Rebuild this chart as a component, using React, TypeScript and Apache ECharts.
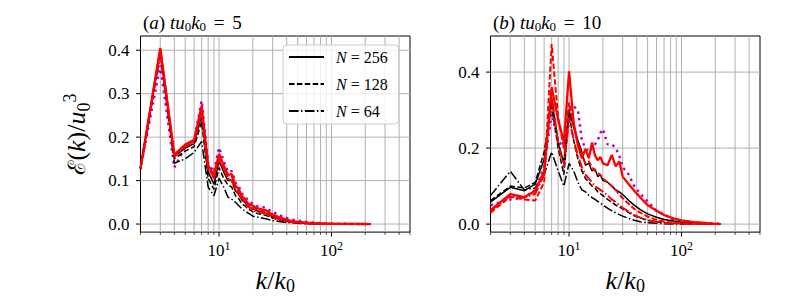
import React, { useEffect, useRef } from 'react';
import * as echarts from 'echarts';

const F = 'Liberation Serif';

// wavenumber k/k0 sample points
const kValues = [2, 3, 4, 5, 6, 7, 8, 9, 10, 11, 12, 13, 14, 15, 16, 17, 18, 19, 20, 22, 24, 26, 28, 30, 34, 38, 43, 50, 60, 70, 85, 100, 130, 160, 190, 222];

// Panel (a) t u0 k0 = 5
const aN256 = [0.128, 0.400, 0.155, 0.175, 0.185, 0.250, 0.120, 0.092, 0.145, 0.120, 0.100, 0.100, 0.076, 0.068, 0.055, 0.050, 0.042, 0.038, 0.035, 0.030, 0.028, 0.025, 0.021, 0.018, 0.013, 0.009, 0.006, 0.004, 0.002, 0.0015, 0.001, 0.0006, 0.0003, 0.0002, 0.0001, 0.0];
const aN128 = [0.128, 0.395, 0.150, 0.168, 0.178, 0.235, 0.105, 0.080, 0.130, 0.105, 0.090, 0.085, 0.065, 0.058, 0.046, 0.042, 0.035, 0.032, 0.028, 0.024, 0.022, 0.020, 0.017, 0.014, 0.010, 0.007, 0.005, 0.003, 0.0015, 0.001, 0.0006, 0.0004, 0.0002, 0.0001, 0.0, 0.0];
const aN64 = [0.125, 0.390, 0.140, 0.150, 0.165, 0.190, 0.085, 0.065, 0.105, 0.085, 0.062, 0.057, 0.050, 0.042, 0.035, 0.030, 0.026, 0.022, 0.018, 0.016, 0.014, 0.012, 0.010, 0.008, 0.006, 0.004, 0.003, 0.002, 0.001, 0.0007, 0.0004, 0.0002, 0.0001, 0.0, 0.0, 0.0];
const aRedSolid = [0.128, 0.405, 0.160, 0.183, 0.194, 0.272, 0.135, 0.113, 0.162, 0.135, 0.113, 0.115, 0.088, 0.080, 0.064, 0.058, 0.048, 0.045, 0.042, 0.036, 0.034, 0.032, 0.026, 0.022, 0.016, 0.012, 0.008, 0.005, 0.003, 0.002, 0.001, 0.0007, 0.0003, 0.0002, 0.0001, 0.0];
const aRedDashed = [0.128, 0.402, 0.158, 0.180, 0.190, 0.265, 0.130, 0.108, 0.157, 0.130, 0.110, 0.110, 0.084, 0.076, 0.060, 0.055, 0.045, 0.042, 0.038, 0.032, 0.030, 0.028, 0.023, 0.019, 0.014, 0.010, 0.007, 0.004, 0.002, 0.0015, 0.0008, 0.0005, 0.0002, 0.0001, 0.0, 0.0];
const aRedDashDot = [0.128, 0.400, 0.155, 0.178, 0.188, 0.260, 0.126, 0.105, 0.153, 0.126, 0.104, 0.100, 0.079, 0.070, 0.055, 0.050, 0.040, 0.037, 0.033, 0.027, 0.026, 0.024, 0.019, 0.016, 0.011, 0.008, 0.005, 0.003, 0.0015, 0.001, 0.0005, 0.0003, 0.0001, 0.0, 0.0, 0.0];
const aMagenta = [0.128, 0.365, 0.130, 0.178, 0.192, 0.284, 0.140, 0.120, 0.176, 0.145, 0.120, 0.122, 0.095, 0.086, 0.070, 0.064, 0.055, 0.050, 0.047, 0.041, 0.040, 0.037, 0.032, 0.028, 0.021, 0.016, 0.011, 0.008, 0.005, 0.003, 0.0015, 0.001, 0.0005, 0.0003, 0.0001, 0.0];

// Panel (b) t u0 k0 = 10
const bN256 = [0.058, 0.097, 0.088, 0.105, 0.170, 0.330, 0.215, 0.160, 0.300, 0.255, 0.220, 0.190, 0.155, 0.160, 0.140, 0.145, 0.125, 0.130, 0.115, 0.110, 0.100, 0.090, 0.085, 0.078, 0.062, 0.050, 0.038, 0.027, 0.018, 0.012, 0.008, 0.005, 0.002, 0.001, 0.0005, 0.0];
const bN128 = [0.062, 0.100, 0.095, 0.110, 0.190, 0.310, 0.200, 0.130, 0.290, 0.220, 0.170, 0.140, 0.120, 0.110, 0.100, 0.095, 0.085, 0.080, 0.075, 0.065, 0.058, 0.050, 0.045, 0.040, 0.030, 0.022, 0.016, 0.010, 0.006, 0.004, 0.002, 0.001, 0.0005, 0.0002, 0.0001, 0.0];
const bN64 = [0.075, 0.139, 0.090, 0.095, 0.130, 0.190, 0.140, 0.100, 0.160, 0.140, 0.110, 0.090, 0.085, 0.075, 0.070, 0.065, 0.060, 0.055, 0.050, 0.042, 0.035, 0.030, 0.025, 0.021, 0.015, 0.010, 0.006, 0.004, 0.002, 0.001, 0.0005, 0.0002, 0.0, 0.0, 0.0, 0.0];
const bRedSolid = [0.037, 0.079, 0.071, 0.088, 0.139, 0.360, 0.275, 0.215, 0.402, 0.266, 0.207, 0.173, 0.198, 0.173, 0.215, 0.181, 0.168, 0.177, 0.160, 0.155, 0.182, 0.152, 0.165, 0.125, 0.105, 0.088, 0.070, 0.050, 0.035, 0.024, 0.015, 0.010, 0.005, 0.003, 0.0015, 0.0];
const bRedDashed = [0.030, 0.072, 0.065, 0.062, 0.110, 0.474, 0.280, 0.200, 0.320, 0.260, 0.210, 0.180, 0.160, 0.165, 0.150, 0.140, 0.135, 0.130, 0.120, 0.110, 0.100, 0.090, 0.078, 0.068, 0.053, 0.040, 0.030, 0.020, 0.011, 0.007, 0.003, 0.002, 0.0008, 0.0003, 0.0001, 0.0];
const bRedDashDot = [0.035, 0.075, 0.070, 0.080, 0.130, 0.340, 0.210, 0.150, 0.280, 0.220, 0.180, 0.150, 0.130, 0.120, 0.110, 0.100, 0.095, 0.090, 0.085, 0.075, 0.065, 0.058, 0.050, 0.043, 0.033, 0.024, 0.017, 0.011, 0.006, 0.003, 0.0015, 0.0008, 0.0003, 0.0001, 0.0, 0.0];
const bMagenta = [0.050, 0.065, 0.070, 0.090, 0.150, 0.290, 0.220, 0.200, 0.300, 0.310, 0.300, 0.220, 0.200, 0.190, 0.200, 0.210, 0.220, 0.240, 0.250, 0.210, 0.210, 0.200, 0.180, 0.150, 0.130, 0.100, 0.080, 0.060, 0.035, 0.025, 0.012, 0.008, 0.004, 0.003, 0.002, 0.001];

// ticks
const xTickValues = [2, 3, 4, 5, 6, 7, 8, 9, 10, 20, 30, 40, 50, 60, 70, 80, 90, 100, 200, 300, 400, 500];
const xMajorTicks = [10, 100];
const yTicksA = [0, 0.1, 0.2, 0.3, 0.4];
const yTicksB = [0, 0.2, 0.4];
const legendNames = ['N = 256', 'N = 128', 'N = 64'];

const BLACK = '#000000';
const RED = '#ff0000';
const MAG = '#bf00bf';
const DASH = [5.5, 2.4];
const DASHDOT = [9.6, 2.4, 1.5, 2.4];
const DOT = [2.5, 4];

const GRID_L = [140.5, 490.5];
const GRID_W = 269.5;
const GRID_T = 36;
const GRID_H = 203;

function pairs(vals: number[]) {
  return kValues.map((k, i) => [k, vals[i]]);
}

function lineSeries(name: string, vals: number[], idx: number, color: string, type: any, width: number, z: number) {
  return {
    type: 'line',
    name,
    xAxisIndex: idx,
    yAxisIndex: idx,
    data: pairs(vals),
    showSymbol: false,
    symbol: 'none',
    z,
    lineStyle: { color, width, type },
    itemStyle: { color },
    emphasis: { disabled: true },
  };
}

function gridSeries(idx: number, yTicks: number[]) {
  const vData = xTickValues.map((v) => [v, 0, xMajorTicks.indexOf(v) >= 0 ? 1 : 0]);
  const hData = yTicks.map((v) => [10, v]);
  return [
    {
      type: 'custom',
      xAxisIndex: idx,
      yAxisIndex: idx,
      silent: true,
      z: 1,
      clip: false,
      data: vData,
      encode: { x: 0, y: 1 },
      renderItem: (params: any, api: any) => {
        const cs = params.coordSys;
        const x = api.coord([api.value(0), 0])[0];
        const major = api.value(2) === 1;
        const bottom = cs.y + cs.height;
        const children: any[] = [];
        if (x > cs.x + 0.5 && x < cs.x + cs.width - 0.5) {
          children.push({ type: 'line', shape: { x1: x, y1: cs.y, x2: x, y2: bottom }, style: { stroke: '#b0b0b0', lineWidth: 1 } });
        }
        children.push({ type: 'line', shape: { x1: x, y1: bottom, x2: x, y2: bottom + (major ? 4.5 : 2.8) }, style: { stroke: '#000', lineWidth: major ? 1 : 0.7 } });
        return { type: 'group', children };
      },
    },
    {
      type: 'custom',
      xAxisIndex: idx,
      yAxisIndex: idx,
      silent: true,
      z: 1,
      clip: false,
      data: hData,
      encode: { x: 0, y: 1 },
      renderItem: (params: any, api: any) => {
        const cs = params.coordSys;
        const y = api.coord([10, api.value(1)])[1];
        return {
          type: 'group',
          children: [
            { type: 'line', shape: { x1: cs.x, y1: y, x2: cs.x + cs.width, y2: y }, style: { stroke: '#b0b0b0', lineWidth: 1 } },
            { type: 'line', shape: { x1: cs.x - 4.5, y1: y, x2: cs.x, y2: y }, style: { stroke: '#000', lineWidth: 1 } },
          ],
        };
      },
    },
  ];
}

const xLabelFormatter = (v: number) => {
  const e = Math.log10(v);
  if (Math.abs(e - Math.round(e)) < 1e-6) return '10{sup|' + Math.round(e) + '}';
  return '';
};
const yLabelFormatter = (v: number) => (Math.abs(v * 10 - Math.round(v * 10)) < 1e-6 ? (Math.round(v * 10) / 10).toFixed(1) : '');

function xAxis(idx: number) {
  return {
    type: 'log',
    logBase: 10,
    gridIndex: idx,
    min: 2,
    max: 500,
    axisLine: { show: false },
    axisTick: { show: false },
    minorTick: { show: false },
    splitLine: { show: false },
    axisLabel: {
      formatter: xLabelFormatter,
      margin: 8,
      fontFamily: F,
      fontSize: 17,
      lineHeight: 20,
      color: '#000',
      rich: { sup: { fontFamily: F, fontSize: 12, lineHeight: 12, verticalAlign: 'top', color: '#000' } },
    },
    name: '{i|k}/{i|k}{sub|0}',
    nameLocation: 'middle',
    nameGap: 26,
    nameTextStyle: {
      fontFamily: F,
      fontSize: 26,
      lineHeight: 30,
      color: '#000',
      rich: {
        i: { fontFamily: F, fontStyle: 'italic', fontSize: 26, lineHeight: 30, color: '#000' },
        sub: { fontFamily: F, fontSize: 18, lineHeight: 18, verticalAlign: 'bottom', color: '#000' },
      },
    },
  };
}

function yAxis(idx: number, min: number, max: number, splitNumber: number, withName: boolean) {
  const ax: any = {
    type: 'value',
    gridIndex: idx,
    min,
    max,
    splitNumber,
    axisLine: { show: false },
    axisTick: { show: false },
    splitLine: { show: false },
    axisLabel: { formatter: yLabelFormatter, margin: 11, fontFamily: F, fontSize: 17, color: '#000' },
  };
  if (withName) {
    ax.name = '{s|ℰ}({i|k})/{i|u}{sub|0}{sup|3}';
    ax.nameLocation = 'middle';
    ax.nameGap = 48;
    ax.nameTextStyle = {
      fontFamily: F,
      fontSize: 26,
      lineHeight: 32,
      color: '#000',
      rich: {
        s: { fontFamily: 'DejaVu Serif', fontSize: 24, lineHeight: 32, color: '#000' },
        i: { fontFamily: F, fontStyle: 'italic', fontSize: 26, lineHeight: 32, color: '#000' },
        sub: { fontFamily: F, fontSize: 18, lineHeight: 18, verticalAlign: 'bottom', color: '#000' },
        sup: { fontFamily: F, fontSize: 18, lineHeight: 18, verticalAlign: 'top', color: '#000' },
      },
    };
  }
  return ax;
}

const titleRich = {
  i: { fontFamily: F, fontStyle: 'italic', fontSize: 19, lineHeight: 22, color: '#000' },
  sub: { fontFamily: F, fontSize: 13, lineHeight: 13, verticalAlign: 'bottom', color: '#000' },
  eq: { fontFamily: F, fontSize: 19, lineHeight: 22, color: '#000', padding: [0, 3, 0, 3] },
};

export default function App() {
  const ref = useRef<HTMLDivElement>(null);
  useEffect(() => {
    if (!ref.current) return;
    const chart = echarts.init(ref.current, null, { renderer: 'svg' });
    const option: any = {
      animation: false,
      backgroundColor: '#ffffff',
      textStyle: { fontFamily: F },
      title: [
        {
          left: 138,
          top: 6,
          text: '({i|a}) {i|tu}{sub|0}{i|k}{sub|0}{eq| = }5',
          textStyle: { fontFamily: F, fontSize: 19, lineHeight: 22, fontWeight: 'normal', color: '#000', rich: titleRich },
        },
        {
          left: 488,
          top: 6,
          text: '({i|b}) {i|tu}{sub|0}{i|k}{sub|0}{eq| = }10',
          textStyle: { fontFamily: F, fontSize: 19, lineHeight: 22, fontWeight: 'normal', color: '#000', rich: titleRich },
        },
      ],
      legend: {
        data: legendNames,
        left: 283,
        top: 45,
        orient: 'vertical',
        itemWidth: 35,
        itemHeight: 14,
        itemGap: 11,
        padding: [4, 11, 5, 5],
        backgroundColor: 'rgba(255,255,255,0.8)',
        borderColor: '#cccccc',
        borderWidth: 1,
        borderRadius: 4,
        selectedMode: false,
        itemStyle: { color: 'transparent', borderColor: 'transparent', borderWidth: 0, opacity: 0 },
        formatter: (n: string) => n.replace('N', '{i|N}'),
        textStyle: {
          fontFamily: F,
          fontSize: 16,
          color: '#000',
          padding: [0, 0, 0, 7],
          rich: { i: { fontFamily: F, fontStyle: 'italic', fontSize: 16, color: '#000' } },
        },
      },
      grid: [
        { left: GRID_L[0], top: GRID_T, width: GRID_W, height: GRID_H, show: true, borderColor: '#000', borderWidth: 1, backgroundColor: 'transparent' },
        { left: GRID_L[1], top: GRID_T, width: GRID_W, height: GRID_H, show: true, borderColor: '#000', borderWidth: 1, backgroundColor: 'transparent' },
      ],
      xAxis: [xAxis(0), xAxis(1)],
      yAxis: [yAxis(0, -0.0185, 0.4327, 5, true), yAxis(1, -0.021, 0.495, 3, false)],
      series: [
        ...gridSeries(0, yTicksA),
        ...gridSeries(1, yTicksB),
        lineSeries('a-mag', aMagenta, 0, MAG, DOT, 2.5, 2),
        lineSeries('N = 256', aN256, 0, BLACK, 'solid', 1.5, 3),
        lineSeries('N = 128', aN128, 0, BLACK, DASH, 1.5, 3),
        lineSeries('N = 64', aN64, 0, BLACK, DASHDOT, 1.5, 3),
        lineSeries('a-red-dd', aRedDashDot, 0, RED, DASHDOT, 2, 4),
        lineSeries('a-red-d', aRedDashed, 0, RED, DASH, 2, 4),
        lineSeries('a-red-s', aRedSolid, 0, RED, 'solid', 2.3, 4),
        lineSeries('b-mag', bMagenta, 1, MAG, DOT, 2.5, 2),
        lineSeries('b-256', bN256, 1, BLACK, 'solid', 1.5, 3),
        lineSeries('b-128', bN128, 1, BLACK, DASH, 1.5, 3),
        lineSeries('b-64', bN64, 1, BLACK, DASHDOT, 1.5, 3),
        lineSeries('b-red-dd', bRedDashDot, 1, RED, DASHDOT, 2, 4),
        lineSeries('b-red-d', bRedDashed, 1, RED, DASH, 2, 4),
        lineSeries('b-red-s', bRedSolid, 1, RED, 'solid', 2.3, 4),
      ],
    };
    chart.setOption(option);
    return () => chart.dispose();
  }, []);
  return <div ref={ref} style={{ position: 'fixed', left: 0, top: 0, width: 800, height: 300 }} />;
}
